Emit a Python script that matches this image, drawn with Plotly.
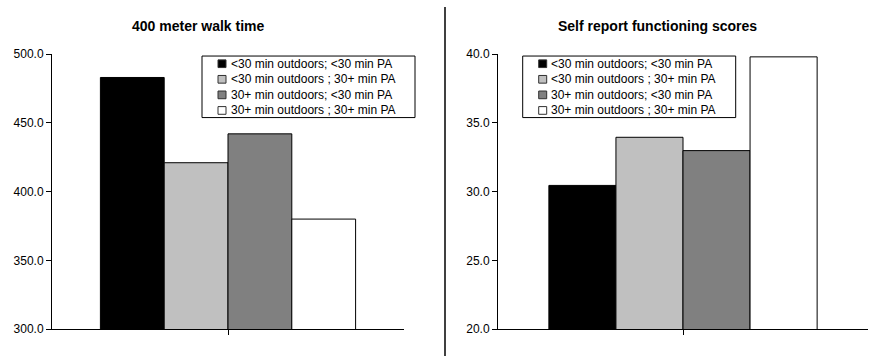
import plotly.graph_objects as go

groups = ["<30 min outdoors; <30 min PA",
          "<30 min outdoors ; 30+ min PA",
          "30+ min outdoors; <30 min PA",
          "30+ min outdoors ; 30+ min PA"]
walk_time = [483, 421, 442, 380]
self_report = [30.45, 33.95, 32.98, 39.8]
titles = ["400 meter walk time", "Self report functioning scores"]
colors = ["#000000", "#C0C0C0", "#808080", "#FFFFFF"]

FONT = "Liberation Sans, Arial, sans-serif"
W, H = 890, 363

def px(x):
    return x / W

def py(y):
    return 1 - y / H

fig = go.Figure()
for i, g in enumerate(groups):
    fig.add_trace(go.Bar(x=[""], y=[walk_time[i]], name=g, xaxis="x", yaxis="y",
                         marker=dict(color=colors[i], line=dict(color="#000000", width=1))))
for i, g in enumerate(groups):
    fig.add_trace(go.Bar(x=[""], y=[self_report[i]], name=g, xaxis="x2", yaxis="y2",
                         marker=dict(color=colors[i], line=dict(color="#000000", width=1))))

axis_common = dict(showline=True, linecolor="#000000", linewidth=1, ticks="outside",
                   ticklen=5, tickcolor="#000000", showgrid=False, zeroline=False,
                   tickfont=dict(family=FONT, size=12, color="#000000"))

annotations = [
    dict(text="<b>" + titles[0] + "</b>", x=px(198), y=py(20), xref="paper", yref="paper",
         xanchor="center", yanchor="middle", showarrow=False,
         font=dict(family=FONT, size=14, color="#000000")),
    dict(text="<b>" + titles[1] + "</b>", x=px(657.5), y=py(20), xref="paper", yref="paper",
         xanchor="center", yanchor="middle", showarrow=False,
         font=dict(family=FONT, size=14, color="#000000")),
]
shapes = [dict(type="line", xref="paper", yref="paper", x0=0.5, x1=0.5, y0=0, y1=1,
               line=dict(color="#000000", width=1.5))]

# legend boxes (box, swatches and text lines), one per panel
legend_left = [202, 522.7]
legend_w, legend_top, legend_h = 213, 51, 64
row_h = 16.2
for lx in legend_left:
    shapes.append(dict(type="rect", xref="paper", yref="paper",
                       x0=px(lx), x1=px(lx + legend_w), y0=py(legend_top), y1=py(legend_top + legend_h),
                       line=dict(color="#000000", width=1), fillcolor="white", layer="above"))
    for i, g in enumerate(groups):
        cy = legend_top + 8 + i * row_h
        shapes.append(dict(type="rect", xref="paper", yref="paper",
                           x0=px(lx + 16), x1=px(lx + 24), y0=py(cy - 4), y1=py(cy + 4),
                           line=dict(color="#303030", width=1), fillcolor=colors[i], layer="above"))
        annotations.append(dict(text=g, x=px(lx + 26.5), y=py(cy), xref="paper", yref="paper",
                                xanchor="left", yanchor="middle", showarrow=False,
                                font=dict(family=FONT, size=12, color="#000000")))

fig.update_layout(
    width=W, height=H,
    margin=dict(l=0, r=0, t=0, b=0),
    paper_bgcolor="white", plot_bgcolor="white",
    barmode="group", bargap=0.275, bargroupgap=0,
    font=dict(family=FONT, size=12, color="#000000"),
    showlegend=False,
    xaxis=dict(domain=[px(52), px(404)], anchor="y", showticklabels=False, **axis_common),
    yaxis=dict(domain=[py(335), py(49)], anchor="x", range=[300, 500], dtick=50,
               tickformat=".1f", **axis_common),
    xaxis2=dict(domain=[px(498), px(868)], anchor="y2", showticklabels=False, **axis_common),
    yaxis2=dict(domain=[py(335), py(49)], anchor="x2", range=[20, 40], dtick=5,
                tickformat=".1f", **axis_common),
    annotations=annotations,
    shapes=shapes,
)

post = ("document.documentElement.style.margin='0';document.documentElement.style.padding='0';"
        "document.documentElement.style.overflow='hidden';"
        "document.body.style.margin='0';document.body.style.padding='0';document.body.style.overflow='hidden';"
        "var gd=document.getElementById('{plot_id}');gd.style.position='fixed';"
        "gd.style.top='0px';gd.style.left='0px';")

fig.write_html("out.html", config={"displayModeBar": False}, post_script=post)
